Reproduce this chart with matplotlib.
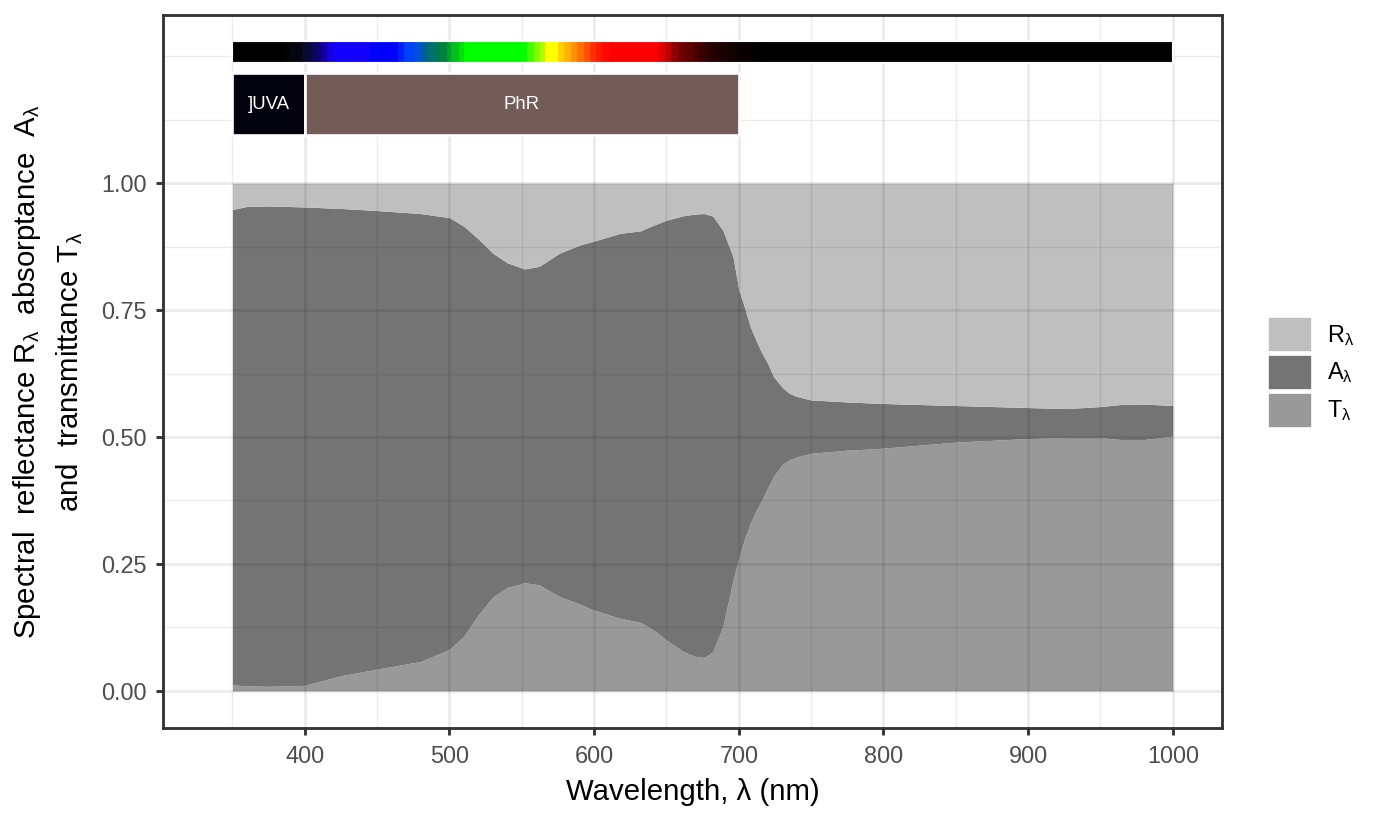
import matplotlib
matplotlib.use('Agg')
import matplotlib.pyplot as plt
from matplotlib.patches import Patch, Rectangle

plt.rcParams['font.family'] = ['Liberation Sans', 'DejaVu Sans']
plt.rcParams['mathtext.fontset'] = 'custom'
plt.rcParams['mathtext.rm'] = 'Liberation Sans'

# wavelengths (nm) and fractions
wl = [350, 360, 375, 400, 425, 450, 480, 500, 510, 520, 530, 540, 552, 562,
      576, 590, 600, 618, 632, 641, 650, 662, 670, 676, 682, 689, 696, 700,
      704, 708, 712, 716, 720, 724, 730, 735, 740, 750, 775, 800, 850, 900,
      927, 950, 964, 980, 1000]
trn = [0.012, 0.010, 0.009, 0.011, 0.030, 0.043, 0.058, 0.082, 0.108, 0.150,
       0.185, 0.204, 0.213, 0.209, 0.186, 0.171, 0.159, 0.143, 0.135, 0.120,
       0.100, 0.077, 0.068, 0.066, 0.077, 0.127, 0.218, 0.262, 0.300, 0.330,
       0.356, 0.376, 0.400, 0.422, 0.446, 0.455, 0.461, 0.468, 0.474, 0.478,
       0.490, 0.497, 0.499, 0.499, 0.495, 0.495, 0.502]
rfl = [0.052, 0.046, 0.045, 0.047, 0.050, 0.054, 0.060, 0.068, 0.085, 0.110,
       0.138, 0.157, 0.169, 0.164, 0.138, 0.122, 0.114, 0.099, 0.094, 0.083,
       0.073, 0.064, 0.061, 0.060, 0.065, 0.093, 0.145, 0.210, 0.245, 0.283,
       0.310, 0.335, 0.355, 0.381, 0.402, 0.414, 0.420, 0.427, 0.431, 0.434,
       0.438, 0.442, 0.444, 0.440, 0.436, 0.435, 0.438]
afr = [1 - r - t for r, t in zip(rfl, trn)]

# colour strip: segment start (nm) and colour, last segment runs to 1000
spec_start = [350, 386, 390, 399, 404, 408, 412, 416, 421, 446, 465, 469, 476,
              482, 486, 491, 494, 499, 502, 507, 511, 554, 559, 563, 567, 576,
              580, 585, 589, 594, 598, 602, 606, 611, 645, 650, 654, 659, 663,
              668, 672, 677, 681, 686, 693, 700, 709, 716]
spec_col = ['#000000', '#030303', '#05050f', '#0a0a30', '#08084a', '#100070',
            '#1000a0', '#1500e0', '#1400ff', '#0000ff', '#0020ff', '#0040ff',
            '#0050e0', '#006090', '#007070', '#007850', '#008040', '#00a030',
            '#00c020', '#00e010', '#00ff00', '#40ff00', '#80ff00', '#b0ff00',
            '#ffff00', '#ffd000', '#ffb000', '#ff9000', '#ff7000', '#ff5000',
            '#ff3000', '#ff1800', '#ff0800', '#ff0000', '#e00000', '#c00000',
            '#900000', '#700000', '#600000', '#500000', '#400000', '#300000',
            '#250000', '#1a0000', '#100000', '#080000', '#030000', '#000000']
spec_end = spec_start[1:] + [1000]

band_lo = [350, 400]
band_hi = [400, 700]
band_lab = [']UVA', 'PhR']
band_col = ['#03030f', '#735c57']

col_r = '#bfbfbf'
col_a = '#747474'
col_t = '#999999'

fig = plt.figure(figsize=(1382 / 192, 825 / 192), dpi=192)
ax = fig.add_axes([163 / 1382, 1 - 728 / 825, (1222 - 163) / 1382, (728 - 15) / 825])

top = [t + a for t, a in zip(trn, afr)]
ax.fill_between(wl, 0, trn, color=col_t, lw=0, zorder=1)
ax.fill_between(wl, trn, top, color=col_a, lw=0, zorder=1)
ax.fill_between(wl, top, [1] * len(wl), color=col_r, lw=0, zorder=1)

# colour strip
widths = [e - s for s, e in zip(spec_start, spec_end)]
ax.bar(spec_start, 0.044, width=widths, bottom=1.236, align='edge',
       color=spec_col, edgecolor=spec_col, linewidth=0.6, zorder=3)
ax.add_patch(Rectangle((350, 1.236), 650, 0.044, fill=False,
                       edgecolor='white', lw=0.8, zorder=3.2))

# wavebands
ax.bar(band_lo, 0.123, width=[h - l for l, h in zip(band_lo, band_hi)],
       bottom=1.094, align='edge', color=band_col, edgecolor='white',
       linewidth=1.0, zorder=3)
for l, h, s in zip(band_lo, band_hi, band_lab):
    ax.text((l + h) / 2, 1.1555, s, color='white', fontsize=7,
            ha='center', va='center', zorder=4)

ax.set_xlim(302, 1034)
ax.set_ylim(-0.073, 1.331)
ax.set_xticks([400, 500, 600, 700, 800, 900, 1000])
ax.set_xticks([350, 450, 550, 650, 750, 850, 950], minor=True)
ax.set_yticks([0, 0.25, 0.5, 0.75, 1.0])
ax.set_yticklabels(['0.00', '0.25', '0.50', '0.75', '1.00'])
ax.set_yticks([0.125, 0.375, 0.625, 0.875, 1.125, 1.25], minor=True)

ax.set_axisbelow(False)
ax.grid(which='major', color='black', alpha=0.075, lw=1.07)
ax.grid(which='minor', color='black', alpha=0.075, lw=0.53)
ax.tick_params(which='major', length=2.75, width=1.07, color='#333333',
               labelsize=8.8, labelcolor='#4d4d4d')
ax.tick_params(which='minor', length=0)
for sp in ax.spines.values():
    sp.set_color('#333333')
    sp.set_linewidth(1.07)

ax.set_xlabel('Wavelength, λ (nm)', fontsize=11, labelpad=4)
ax.set_ylabel('Spectral  reflectance $\\mathregular{R_{λ}}$  absorptance  $\\mathregular{A_{λ}}$\n'
              'and  transmittance $\\mathregular{T_{λ}}$', fontsize=11, labelpad=6,
              linespacing=1.45)

handles = [Patch(facecolor=col_r, edgecolor='white', lw=1),
           Patch(facecolor=col_a, edgecolor='white', lw=1),
           Patch(facecolor=col_t, edgecolor='white', lw=1)]
labels = ['$\\mathregular{R_{λ}}$', '$\\mathregular{A_{λ}}$', '$\\mathregular{T_{λ}}$']
fig.legend(handles, labels, loc='center left', bbox_to_anchor=(1255 / 1382, 1 - 372 / 825),
           frameon=False, handlelength=1.95, handleheight=1.95, labelspacing=0.1,
           handletextpad=0.6, borderpad=0, fontsize=8.8)

fig.savefig('out.png', dpi=192)
